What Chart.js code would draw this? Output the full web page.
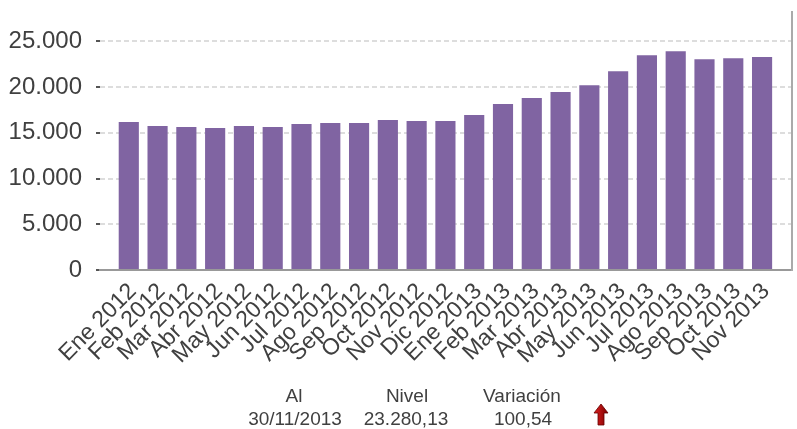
<!DOCTYPE html>
<html>
<head>
<meta charset="utf-8">
<script src="https://cdn.jsdelivr.net/npm/chart.js@4"></script>
<style>
  html, body { margin: 0; padding: 0; background: #fff; }
  #wrap { position: relative; width: 797px; height: 429px; }
  #chart { position: absolute; left: 0; top: 0; }
  .info { position: absolute; width: 140px; text-align: center; font: 19px "Liberation Sans", Arial, sans-serif; color: #404040; line-height: 19px; }
  #arrow { position: absolute; left: 593px; top: 403px; }
</style>
</head>
<body>
<div id="wrap">
  <canvas id="chart" width="797" height="429"></canvas>
  <div class="info" style="left:224px; top:386px;">Al</div>
  <div class="info" style="left:337px; top:386px;">Nivel</div>
  <div class="info" style="left:452px; top:386px;">Variación</div>
  <div class="info" style="left:225px; top:409px;">30/11/2013</div>
  <div class="info" style="left:336px; top:409px;">23.280,13</div>
  <div class="info" style="left:453px; top:409px;">100,54</div>
  <svg id="arrow" width="16" height="23" viewBox="0 0 16 23">
    <defs>
      <linearGradient id="g" x1="0" x2="1" y1="0" y2="0">
        <stop offset="0" stop-color="#e02020"/>
        <stop offset="1" stop-color="#7a0000"/>
      </linearGradient>
    </defs>
    <polygon points="8,1 15,10 11,10 11,22 5,22 5,10 1,10" fill="url(#g)" stroke="#600" stroke-width="0.8"/>
  </svg>
</div>
<script>
const months = ['Ene 2012', 'Feb 2012', 'Mar 2012', 'Abr 2012', 'May 2012', 'Jun 2012',
  'Jul 2012', 'Ago 2012', 'Sep 2012', 'Oct 2012', 'Nov 2012', 'Dic 2012',
  'Ene 2013', 'Feb 2013', 'Mar 2013', 'Abr 2013', 'May 2013', 'Jun 2013',
  'Jul 2013', 'Ago 2013', 'Sep 2013', 'Oct 2013', 'Nov 2013'];
const levels = [16170, 15730, 15620, 15510, 15730, 15620, 15950, 16060, 16060, 16390, 16280, 16280,
  16940, 18140, 18800, 19460, 20200, 21720, 23470, 23910, 23030, 23140, 23280];
const yTicks = [0, 5000, 10000, 15000, 20000, 25000];

const fmt = v => v.toLocaleString('de-DE');
const font = { family: '"Liberation Sans", Arial, sans-serif' };

// no extra padding from scale labels, so the plot area sits where the original has it
const noPad = s => { s.paddingLeft = 0; s.paddingRight = 0; s.paddingTop = 0; s.paddingBottom = 0; };

new Chart(document.getElementById('chart'), {
  type: 'bar',
  data: {
    datasets: [{
      data: levels.map((v, i) => ({ x: i, y: v })),
      backgroundColor: '#8064A2',
      categoryPercentage: 1,
      barPercentage: 0.7
    }]
  },
  options: {
    responsive: false,
    animation: false,
    layout: { padding: { top: 12, left: 0, right: 0, bottom: 0 } },
    plugins: { legend: { display: false }, tooltip: { enabled: false } },
    scales: {
      x: {
        type: 'linear',
        offset: false,
        min: -1,
        max: 23.04,
        grid: { display: false },
        border: { color: '#999', width: 2 },
        afterFit: s => { s.height = 159; noPad(s); },
        afterBuildTicks: s => { s.ticks = months.map((m, i) => ({ value: i })); },
        ticks: {
          autoSkip: false,
          minRotation: 45,
          maxRotation: 45,
          padding: 0,
          labelOffset: 4,
          color: '#404040',
          font: { ...font, size: 23 },
          callback: v => months[v] || ''
        }
      },
      y: {
        min: 0,
        max: 28200,
        afterFit: s => { s.width = 100; noPad(s); },
        afterBuildTicks: s => { s.ticks = yTicks.map(v => ({ value: v })); },
        grid: { color: '#dddddd', lineWidth: 2, tickLength: 4, tickColor: '#555', tickWidth: 2, tickBorderDash: [] },
        border: { display: false, dash: [5, 3] },
        ticks: {
          padding: 14,
          color: '#404040',
          font: { ...font, size: 24 },
          callback: v => fmt(v)
        }
      },
      y2: {
        position: 'right',
        min: 0,
        max: 1,
        afterFit: s => { s.width = 5; noPad(s); },
        grid: { display: false },
        ticks: { display: false },
        border: { color: '#aaa', width: 2 }
      }
    }
  }
});
</script>
</body>
</html>
